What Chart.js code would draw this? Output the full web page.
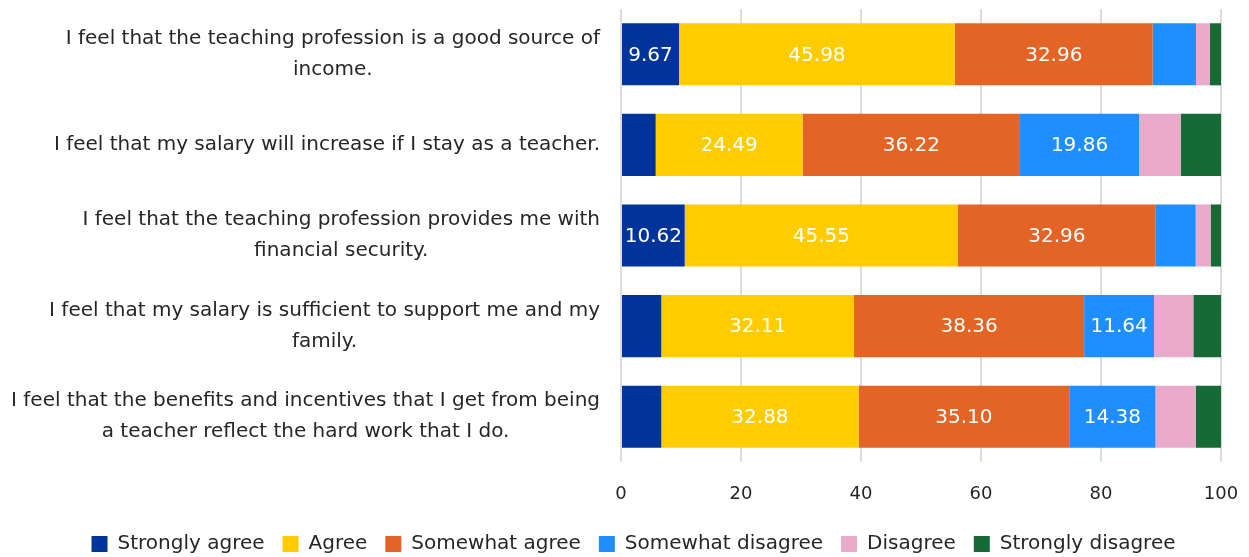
<!DOCTYPE html>
<html>
<head>
<meta charset="utf-8">
<script src="https://cdn.jsdelivr.net/npm/chart.js@4"></script>
<style>
  html, body { margin: 0; padding: 0; background: #fff; }
  #wrap { width: 1249px; height: 557px; }
</style>
</head>
<body>
<div id="wrap"><canvas id="salaryChart" width="1249" height="557"></canvas></div>
<script>
// Survey statements (one array of lines per bar)
const statements = [
    ['I feel that the teaching profession is a good source of', 'income.'],
    ['I feel that my salary will increase if I stay as a teacher.'],
    ['I feel that the teaching profession provides me with', 'financial security.'],
    ['I feel that my salary is sufficient to support me and my', 'family.'],
    ['I feel that the benefits and incentives that I get from being', 'a teacher reflect the hard work that I do.']
];

const responseLabels = ['Strongly agree', 'Agree', 'Somewhat agree', 'Somewhat disagree', 'Disagree', 'Strongly disagree'];

// percentages per response, one value per statement
const stronglyAgree    = [9.67, 5.78, 10.62, 6.72, 6.72];
const agree            = [45.98, 24.49, 45.55, 32.11, 32.88];
const somewhatAgree    = [32.96, 36.22, 32.96, 38.36, 35.10];
const somewhatDisagree = [7.22, 19.86, 6.65, 11.64, 14.38];
const disagree         = [2.29, 6.93, 2.50, 6.56, 6.70];
const stronglyDisagree = [1.88, 6.72, 1.72, 4.61, 4.22];

const xTicks = [0, 20, 40, 60, 80, 100];

const colors = ['#00349a', '#ffcc00', '#e36424', '#1f8fff', '#e9aacb', '#156a35'];
const FONT = "'DejaVu Sans', sans-serif";
const TEXT = '#262626';

const seriesData = [stronglyAgree, agree, somewhatAgree, somewhatDisagree, disagree, stronglyDisagree];

// draws the wrapped statements, each block centred on itself and right-aligned to the axis
const statementLabels = {
    id: 'statementLabels',
    afterDraw(chart) {
        const ctx = chart.ctx;
        const yScale = chart.scales.y;
        const right = chart.chartArea.left - 21;
        const lineH = 31;
        ctx.save();
        ctx.font = '20px ' + FONT;
        ctx.fillStyle = TEXT;
        ctx.textAlign = 'center';
        ctx.textBaseline = 'middle';
        statements.forEach((lines, i) => {
            const y = yScale.getPixelForTick(i);
            const widest = Math.max(...lines.map(l => ctx.measureText(l).width));
            const cx = right - widest / 2;
            const top = y - (lines.length - 1) * lineH / 2;
            lines.forEach((line, j) => ctx.fillText(line, cx, top + j * lineH));
        });
        ctx.restore();
    }
};

// values written inside the wider segments
const segmentValues = {
    id: 'segmentValues',
    afterDatasetsDraw(chart) {
        const ctx = chart.ctx;
        ctx.save();
        ctx.font = '20px ' + FONT;
        ctx.fillStyle = '#fff';
        ctx.textAlign = 'center';
        ctx.textBaseline = 'middle';
        chart.data.datasets.forEach((ds, di) => {
            const meta = chart.getDatasetMeta(di);
            meta.data.forEach((bar, i) => {
                const v = ds.data[i];
                if (v < 9) return;
                const cx = (bar.x + bar.base) / 2;
                ctx.fillText(v.toFixed(2), cx, bar.y + 1);
            });
        });
        ctx.restore();
    }
};

// nudge the legend row a little to the right
const legendShift = {
    id: 'legendShift',
    afterLayout(chart) {
        chart.legend.left += 23;
        chart.legend.right += 23;
    }
};

const ctx = document.getElementById('salaryChart').getContext('2d');
const salaryChart = new Chart(ctx, {
    type: 'bar',
    data: {
        labels: statements,
        datasets: responseLabels.map((name, k) => ({
            label: name,
            data: seriesData[k],
            backgroundColor: colors[k],
            borderWidth: 0,
            barPercentage: 0.685,
            categoryPercentage: 1
        }))
    },
    options: {
        indexAxis: 'y',
        responsive: false,
        animation: false,
        layout: { padding: { left: 0, right: 28, top: 9, bottom: -7 } },
        plugins: {
            legend: {
                position: 'bottom',
                labels: {
                    boxWidth: 16,
                    boxHeight: 16,
                    padding: 18,
                    color: TEXT,
                    font: { family: FONT, size: 20, lineHeight: 1.05 }
                }
            },
            tooltip: { enabled: false }
        },
        scales: {
            x: {
                stacked: true,
                min: 0,
                max: 100,
                afterBuildTicks(scale) {
                    scale.ticks = xTicks.map(v => ({ value: v }));
                },
                afterFit(scale) {
                    scale.height = 54;
                    scale.paddingRight = 0;
                },
                grid: { color: '#dcdcdc', lineWidth: 2, drawTicks: false },
                border: { display: false },
                ticks: {
                    padding: 22,
                    color: TEXT,
                    font: { family: FONT, size: 18 }
                }
            },
            y: {
                stacked: true,
                grid: { display: false },
                border: { display: false },
                ticks: { display: false },
                afterFit(scale) { scale.width = 621; }
            }
        }
    },
    plugins: [statementLabels, segmentValues, legendShift]
});
</script>
</body>
</html>
